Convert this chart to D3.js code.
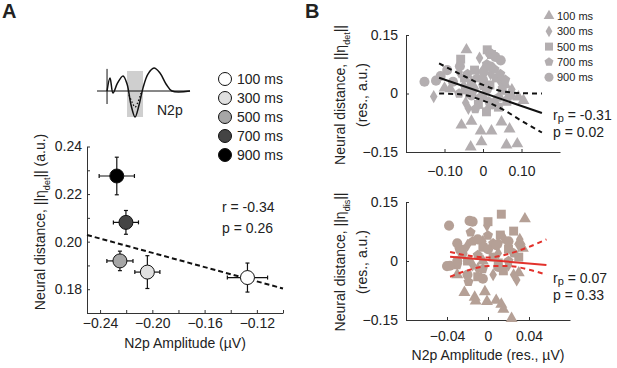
<!DOCTYPE html>
<meta charset="utf-8">
<script src="https://d3js.org/d3.v7.min.js"></script>
<style>
body { margin: 0; background: #fff; }
text { font-family: Arial, "Liberation Sans", sans-serif; fill: #222; }
.axis path, .axis line { stroke: #333; stroke-width: 1; }
.axis text { font-size: 14px; fill: #222; }
</style>
<div id="my_dataviz"></div>
<script>
// ---- panel A: group means (N2p amplitude vs neural distance) ----
var delays = ["100 ms", "300 ms", "500 ms", "700 ms", "900 ms"];
var greys = ["#ffffff", "#e0e0e0", "#a6a6a6", "#444444", "#000000"];
var meanAmp = [-0.1272, -0.2038, -0.2248, -0.2202, -0.2272];
var meanAmpErr = [0.0154, 0.0096, 0.0100, 0.0096, 0.0135];
var meanDist = [0.1849, 0.1872, 0.1919, 0.2081, 0.2276];
var meanDistErr = [0.0061, 0.0069, 0.0041, 0.0050, 0.0079];
var fitA = [[-0.25, 0.2028], [-0.10, 0.1803]];
var statsA = ["r = -0.34", "p = 0.26"];

// inset waveform (arbitrary units)
var waveT = [10.8, 14, 17.2, 22, 28, 32.3, 36.6, 40.9, 45.2, 49.5, 54.8, 61.3, 67.7, 74.2, 80.6, 100];
var waveA = [0, 0.5, -0.08, 0.3, 0.58, 0.27, -0.54, -1, -0.54, 0.12, 0.65, 0.88, 0.69, 0.27, 0, 0];
var dotT = [34.4, 37.6, 40.9, 44.1, 47.3];
var dotA = [-0.15, -0.42, -0.62, -0.42, -0.08];
var shadeT = [32.3, 49.5];

// ---- panel B: residual scatter, one list per delay ----
var shapesB = ["triangle", "diamond", "square", "pentagon", "circle"];

var detTri = [[-0.043,0.112],[-0.10,0.014],[-0.085,0.012],[0.058,0.022],[0.092,-0.009],[0.105,-0.018],[0.03,-0.02],[0.07,0.0],
  [-0.056,-0.081],[-0.03,-0.071],[-0.006,-0.096],[0.022,-0.096],[0.048,-0.073],[0.069,-0.091],[0.089,-0.129],[0.061,-0.132],[-0.004,-0.124],[-0.032,-0.137]];
var detDia = [[-0.128,-0.008],[-0.009,0.091],[-0.045,-0.024],[-0.062,0.055],[0.03,-0.025],[-0.02,0.012],[0.045,0.03],[0.012,-0.04],[-0.03,0.03],[0.075,0.01],[-0.05,0.02],[0.02,0.05],[0.0,0.06],[-0.038,-0.038]];
var detSq = [[0.011,0.112],[0.022,0.100],[-0.058,0.088],[-0.048,0.04],[0.009,-0.047],[0.062,-0.02],[0.018,0.022],[-0.012,-0.028],[0.05,0.008],[-0.022,0.06],[0.04,-0.035],[-0.035,0.0],[-0.03,0.02],[0.0,-0.01],[0.035,0.04]];
var detPent = [[-0.04,0.05],[0.0,0.02],[0.058,0.035],[-0.008,-0.01],[0.03,0.062],[0.072,-0.005],[-0.062,0.0],[0.01,0.075],[0.04,-0.01],[-0.02,-0.04],[-0.015,0.04],[0.015,-0.02],[0.045,0.05]];
var detCirc = [[-0.152,0.03],[-0.122,0.033],[-0.093,0.06],[-0.11,0.045],[0.018,0.103],[0.032,0.094],[0.046,0.085],[0.002,0.056],[0.02,0.069],[0.0,0.035],[-0.03,-0.005],[0.025,-0.028],[-0.078,0.03],[-0.06,0.07],[-0.045,0.01],[0.01,0.01]];
var detFit = [[-0.114,0.0405],[0.153,-0.05]];
var detUpper = [[-0.114,0.077],[-0.06,0.05],[0.0,0.022],[0.05,0.006],[0.10,0.001],[0.153,0.0]];
var detLower = [[-0.114,0.0],[-0.06,-0.002],[0.0,-0.018],[0.05,-0.04],[0.10,-0.07],[0.153,-0.10]];

var disTri = [[0.036,0.107],[-0.023,-0.08],[-0.013,-0.092],[-0.003,-0.078],[-0.012,-0.102],[-0.001,-0.103],[0.008,-0.1],[0.013,-0.11],[0.015,-0.123],[0.023,-0.146],[0.034,0.032],[0.031,0.05],[0.03,-0.03],[-0.03,-0.035],[-0.005,0.0]];
var disDia = [[-0.001,0.09],[0.028,-0.048],[0.031,0.055],[0.01,0.02],[-0.01,-0.02],[0.02,-0.01],[-0.02,0.04],[0.005,-0.035],[0.015,0.06],[-0.005,0.05],[0.025,-0.035],[-0.015,-0.01],[0.03,0.04]];
var disSq = [[0.013,0.119],[0.0,0.1],[0.012,0.066],[0.025,0.076],[0.02,0.03],[-0.01,-0.04],[0.005,0.01],[-0.02,0.0],[0.015,-0.025],[-0.005,0.035],[-0.025,0.03],[0.01,-0.005],[0.03,0.01]];
var disPent = [[-0.019,-0.053],[-0.017,0.073],[-0.028,0.03],[0.005,0.045],[-0.01,0.015],[0.02,0.0],[-0.005,-0.02],[0.025,0.02],[-0.03,-0.01],[0.0,0.065],[-0.015,0.05],[0.01,0.045]];
var disCirc = [[-0.038,0.09],[-0.018,0.102],[-0.015,0.1],[-0.04,-0.013],[-0.037,-0.012],[-0.025,0.02],[-0.01,0.055],[0.0,0.03],[-0.02,-0.035],[0.01,-0.015],[-0.03,0.045],[0.008,0.04],[-0.03,0.0],[-0.005,-0.045],[0.02,0.05]];
var disFit = [[-0.037,0.011],[0.057,-0.010]];
var disUpper = [[-0.037,0.023],[-0.02,0.014],[0.0,0.009],[0.02,0.018],[0.04,0.036],[0.057,0.055]];
var disLower = [[-0.037,-0.04],[-0.02,-0.024],[0.0,-0.013],[0.02,-0.013],[0.04,-0.022],[0.057,-0.035]];
var statsDet = ["-0.31", "p = 0.02"];
var statsDis = ["0.07", "p = 0.33"];

var svg = d3.select("#my_dataviz")
  .append("svg")
    .attr("width", 617)
    .attr("height", 368);

// panel letters
svg.append("text").attr("x", 2).attr("y", 18).style("font-size", "20px").style("font-weight", "bold").text("A");
svg.append("text").attr("x", 305).attr("y", 18).style("font-size", "20px").style("font-weight", "bold").text("B");

// pentagon symbol (d3 has none)
var symbolPentagon = {
  draw: function(context, size) {
    var r = Math.sqrt(size / 2.378);
    for (var i = 0; i < 5; i++) {
      var a = -Math.PI / 2 + i * 2 * Math.PI / 5;
      if (i === 0) context.moveTo(r * Math.cos(a), r * Math.sin(a));
      else context.lineTo(r * Math.cos(a), r * Math.sin(a));
    }
    context.closePath();
  }
};
var symbolTypes = {
  triangle: [d3.symbolTriangle, 62],
  diamond: [d3.symbolDiamond, 50],
  square: [d3.symbolSquare, 80],
  pentagon: [symbolPentagon, 66],
  circle: [d3.symbolCircle, 80]
};

function axisStyle(g) {
  g.attr("class", "axis");
  g.selectAll("path").attr("stroke", "#333");
}

// ================= panel A =================
var xA = d3.scaleLinear().domain([-0.25, -0.10]).range([87, 283]);
var yA = d3.scaleLinear().domain([0.17, 0.24]).range([313, 146.5]);

svg.append("g")
  .attr("transform", "translate(0,313)")
  .call(d3.axisBottom(xA).tickValues(d3.range(-24, -9, 2).map(function(d) { return d / 100; }))
    .tickSizeInner(-3).tickSizeOuter(0).tickPadding(5)
    .tickFormat(function(d) { var k = Math.round(-d * 100); return (k % 4 === 0 && k !== 10) ? d3.format(".2f")(d) : ""; }))
  .call(axisStyle);

svg.append("g")
  .attr("transform", "translate(87,0)")
  .call(d3.axisLeft(yA).tickValues(d3.range(17, 25).map(function(d) { return d / 100; }))
    .tickSizeInner(-3).tickSizeOuter(0).tickPadding(5)
    .tickFormat(function(d) { var k = Math.round(d * 100); return (k % 2 === 0) ? d3.format(".2f")(d) : ""; }))
  .call(axisStyle);

// fit line
svg.append("line")
  .attr("x1", xA(fitA[0][0])).attr("y1", yA(fitA[0][1]))
  .attr("x2", xA(fitA[1][0])).attr("y2", yA(fitA[1][1]))
  .attr("stroke", "#111").attr("stroke-width", 2).attr("stroke-dasharray", "5,3");

// error bars + means
var gA = svg.append("g");
delays.forEach(function(name, i) {
  var cx = xA(meanAmp[i]), cy = yA(meanDist[i]);
  var x0 = xA(meanAmp[i] - meanAmpErr[i]), x1 = xA(meanAmp[i] + meanAmpErr[i]);
  var y0 = yA(meanDist[i] - meanDistErr[i]), y1 = yA(meanDist[i] + meanDistErr[i]);
  var eb = gA.append("g").attr("stroke", "#111").attr("stroke-width", 1.2);
  eb.append("line").attr("x1", x0).attr("x2", x1).attr("y1", cy).attr("y2", cy);
  eb.append("line").attr("x1", cx).attr("x2", cx).attr("y1", y0).attr("y2", y1);
  eb.append("line").attr("x1", x0).attr("x2", x0).attr("y1", cy - 2).attr("y2", cy + 2);
  eb.append("line").attr("x1", x1).attr("x2", x1).attr("y1", cy - 2).attr("y2", cy + 2);
  eb.append("line").attr("x1", cx - 2).attr("x2", cx + 2).attr("y1", y0).attr("y2", y0);
  eb.append("line").attr("x1", cx - 2).attr("x2", cx + 2).attr("y1", y1).attr("y2", y1);
});
gA.selectAll("circle.mean")
  .data(delays)
  .enter().append("circle")
    .attr("class", "mean")
    .attr("cx", function(d, i) { return xA(meanAmp[i]); })
    .attr("cy", function(d, i) { return yA(meanDist[i]); })
    .attr("r", 7)
    .attr("fill", function(d, i) { return greys[i]; })
    .attr("stroke", "#111").attr("stroke-width", 1);

// stats text
svg.selectAll("text.statA")
  .data(statsA)
  .enter().append("text")
    .attr("x", 222).attr("y", function(d, i) { return 212 + i * 21; })
    .style("font-size", "14px")
    .text(function(d) { return d; });

// legend A
var legA = svg.append("g");
delays.forEach(function(name, i) {
  var y = 79 + i * 19;
  legA.append("circle").attr("cx", 225).attr("cy", y).attr("r", 6.5)
    .attr("fill", greys[i]).attr("stroke", "#111").attr("stroke-width", 1);
  legA.append("text").attr("x", 237).attr("y", y).attr("dy", "0.36em")
    .style("font-size", "14px").text(name);
});

// inset waveform
var xW = d3.scaleLinear().domain([0, 100]).range([97, 190]);
var yW = d3.scaleLinear().domain([-1, 1]).range([117, 65]);
svg.append("rect")
  .attr("x", xW(shadeT[0])).attr("width", xW(shadeT[1]) - xW(shadeT[0]))
  .attr("y", yW(0.77)).attr("height", yW(-1) - yW(0.77))
  .attr("fill", "#cfcfcf");
svg.append("line").attr("x1", xW(0)).attr("x2", xW(100)).attr("y1", yW(0)).attr("y2", yW(0))
  .attr("stroke", "#111").attr("stroke-width", 1);
svg.append("line").attr("x1", xW(10.8)).attr("x2", xW(10.8)).attr("y1", yW(0.85)).attr("y2", yW(-0.5))
  .attr("stroke", "#111").attr("stroke-width", 1);
var waveLine = d3.line()
  .x(function(d) { return xW(d[0]); })
  .y(function(d) { return yW(d[1]); })
  .curve(d3.curveCatmullRom);
svg.append("path")
  .datum(waveT.map(function(t, i) { return [t, waveA[i]]; }))
  .attr("d", waveLine).attr("fill", "none").attr("stroke", "#111").attr("stroke-width", 1.5);
svg.append("path")
  .datum(dotT.map(function(t, i) { return [t, dotA[i]]; }))
  .attr("d", waveLine).attr("fill", "none").attr("stroke", "#111").attr("stroke-width", 1.3)
  .attr("stroke-dasharray", "1.5,2");
svg.append("text").attr("x", 157).attr("y", 115).style("font-size", "14px").text("N2p");

// axis labels A
var ylabA = svg.append("text")
  .attr("transform", "translate(45,222) rotate(-90)")
  .attr("text-anchor", "middle")
  .style("font-size", "14px");
ylabA.append("tspan").text("Neural distance, ||\u03b7");
ylabA.append("tspan").attr("baseline-shift", "sub").style("font-size", "9px").text("det");
ylabA.append("tspan").text("|| (a.u.)");
svg.append("text").attr("x", 185).attr("y", 348).attr("text-anchor", "middle")
  .style("font-size", "14px").text("N2p Amplitude (\u00b5V)");

// ================= panel B =================
function scatterPanel(opts) {
  var x = d3.scaleLinear().domain(opts.xDomain).range(opts.xRange);
  var y = d3.scaleLinear().domain([-0.15, 0.15]).range(opts.yRange);

  svg.append("g")
    .attr("transform", "translate(0," + opts.yRange[0] + ")")
    .call(d3.axisBottom(x).tickValues(opts.xTicks).tickSizeInner(-3).tickSizeOuter(0)
      .tickPadding(opts.xPad).tickFormat(opts.xFormat))
    .call(axisStyle);
  svg.append("g")
    .attr("transform", "translate(" + opts.xRange[0] + ",0)")
    .call(d3.axisLeft(y).tickValues([-0.15, 0, 0.15]).tickSizeInner(-3).tickSizeOuter(0)
      .tickPadding(8).tickFormat(function(d) { return d === 0 ? "0" : d3.format(".2f")(d); }))
    .call(axisStyle);

  opts.sets.forEach(function(set, i) {
    var st = symbolTypes[shapesB[i]];
    svg.append("g").selectAll("path")
      .data(set)
      .enter().append("path")
        .attr("transform", function(d) { return "translate(" + x(d[0]) + "," + y(d[1]) + ")"; })
        .attr("d", d3.symbol().type(st[0]).size(st[1]))
        .attr("fill", opts.color);
  });

  var line = d3.line()
    .x(function(d) { return x(d[0]); })
    .y(function(d) { return y(d[1]); })
    .curve(d3.curveMonotoneX);
  svg.append("path").datum(opts.fit).attr("d", line)
    .attr("fill", "none").attr("stroke", opts.lineColor).attr("stroke-width", 2);
  [opts.upper, opts.lower].forEach(function(ci) {
    svg.append("path").datum(ci).attr("d", line)
      .attr("fill", "none").attr("stroke", opts.lineColor).attr("stroke-width", 2)
      .attr("stroke-dasharray", "5,4");
  });

  var t1 = svg.append("text").attr("x", 553).attr("y", opts.statY).style("font-size", "14px");
  t1.append("tspan").text("r");
  t1.append("tspan").style("font-size", "11px").attr("dy", 2).text("p");
  t1.append("tspan").attr("dy", -2).text(" = " + opts.stats[0]);
  svg.append("text").attr("x", 553).attr("y", opts.statY + 17).style("font-size", "14px").text(opts.stats[1]);

  var yl = svg.append("text")
    .attr("transform", "translate(345," + opts.labY + ") rotate(-90)")
    .attr("text-anchor", "middle")
    .style("font-size", "14px");
  yl.append("tspan").text("Neural distance, ||\u03b7");
  yl.append("tspan").attr("baseline-shift", "sub").style("font-size", "9px").text(opts.sub);
  yl.append("tspan").text("||");
  svg.append("text")
    .attr("transform", "translate(367," + opts.labY + ") rotate(-90)")
    .attr("text-anchor", "middle")
    .style("font-size", "14px").text("(res., a.u.)");
}

scatterPanel({
  xDomain: [-0.2, 0.2], xRange: [406, 560], yRange: [152, 35],
  xTicks: [-0.1, 0, 0.1], xPad: 14,
  xFormat: function(d) { return d === 0 ? "0" : d3.format(".2f")(d); },
  sets: [detTri, detDia, detSq, detPent, detCirc],
  color: "#b3aeb0", lineColor: "#111",
  fit: detFit, upper: detUpper, lower: detLower,
  stats: statsDet, statY: 120, labY: 95, sub: "det"
});
scatterPanel({
  xDomain: [-0.08, 0.08], xRange: [406, 570], yRange: [320, 202],
  xTicks: [-0.04, 0, 0.04], xPad: 11,
  xFormat: function(d) { return d === 0 ? "0" : d3.format(".2f")(d); },
  sets: [disTri, disDia, disSq, disPent, disCirc],
  color: "#b5a096", lineColor: "#e2312b",
  fit: disFit, upper: disUpper, lower: disLower,
  stats: statsDis, statY: 283, labY: 262, sub: "dis"
});

svg.append("text").attr("x", 488).attr("y", 360).attr("text-anchor", "middle")
  .style("font-size", "14px").text("N2p Amplitude (res., \u00b5V)");

// legend B
var legB = svg.append("g");
delays.forEach(function(name, i) {
  var y = 16 + i * 15.3;
  var st = symbolTypes[shapesB[i]];
  legB.append("path")
    .attr("transform", "translate(549," + y + ")")
    .attr("d", d3.symbol().type(st[0]).size(st[1] * 0.8))
    .attr("fill", "#b3aeb0");
  legB.append("text").attr("x", 557).attr("y", y).attr("dy", "0.36em")
    .style("font-size", "11px").text(name);
});
</script>
